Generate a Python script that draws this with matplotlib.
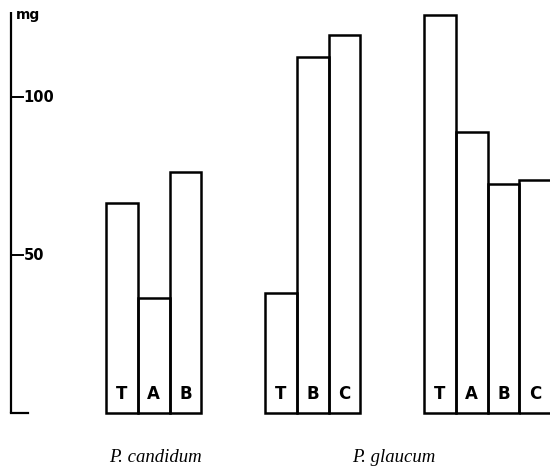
import matplotlib.pyplot as plt

# mg values
candidum_labels = ['T', 'A', 'B']
candidum_values = [66.5, 36.4, 76.3]

glaucum1_labels = ['T', 'B', 'C']
glaucum1_values = [38, 112.7, 119.6]

glaucum2_labels = ['T', 'A', 'B', 'C']
glaucum2_values = [126, 88.9, 72.5, 73.7]

yticks = [50, 100]

groups = [(0, candidum_labels, candidum_values),
          (5, glaucum1_labels, glaucum1_values),
          (10, glaucum2_labels, glaucum2_values)]

fig = plt.figure(figsize=(5.5, 4.66), dpi=100)
ax = fig.add_axes([0, 0, 1, 1])
ax.set_xlim(-3.333, 13.96)
ax.set_ylim(-16.77, 130.7)
ax.axis('off')

lw = 1.8
for start, labs, vals in groups:
    xs = [start + i for i in range(len(vals))]
    ax.bar(xs, vals, width=1, align='edge', fill=False,
           edgecolor='black', linewidth=lw)
    for x, lab in zip(xs, labs):
        ax.text(x + 0.5, 6.0, lab, ha='center', va='center',
                fontsize=12, fontweight='bold', family='DejaVu Sans')

# hand-drawn style y axis
ax.plot([-2.987, -2.987], [0, 127], color='black', lw=1.6, solid_capstyle='butt')
ax.plot([-2.987, -2.45], [0, 0], color='black', lw=1.6)
for t in yticks:
    ax.plot([-2.987, -2.62], [t, t], color='black', lw=1.4)
    ax.text(-2.6, t, str(t), ha='left', va='center',
            fontsize=10.5, fontweight='bold', family='DejaVu Sans')
ax.text(-2.82, 126, 'mg', ha='left', va='center',
        fontsize=10, fontweight='bold', family='DejaVu Sans')

ax.text(1.54, -14.2, 'P. candidum', ha='center', va='center',
        fontsize=13.5, style='italic', family='Liberation Serif')
ax.text(9.05, -14.2, 'P. glaucum', ha='center', va='center',
        fontsize=13.5, style='italic', family='Liberation Serif')

fig.savefig('out.png', dpi=100, facecolor='white')
